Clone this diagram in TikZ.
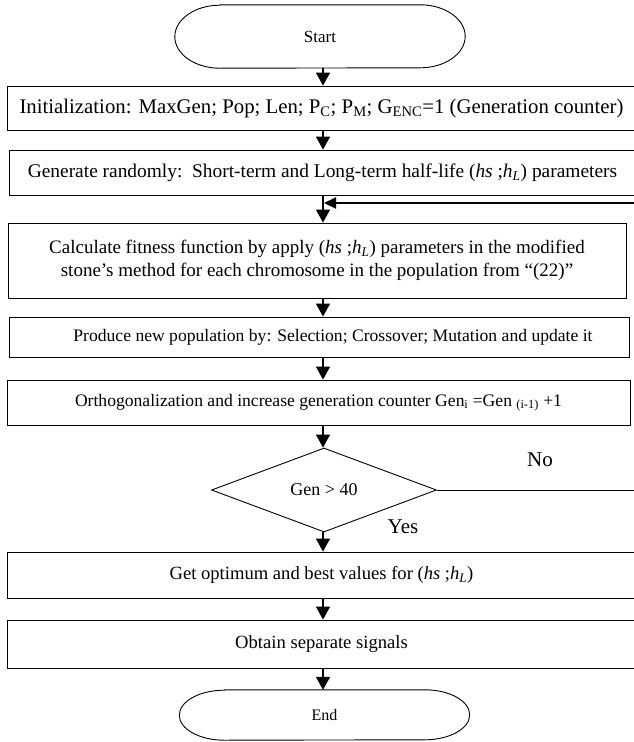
\documentclass[tikz,border=0pt]{standalone}
\usepackage{fontspec}
\setmainfont{Liberation Serif}
\usetikzlibrary{shapes.geometric,arrows.meta}
\tikzset{
  box/.style={draw, line width=0.9pt, rectangle, inner sep=0pt, align=center,
    font=\fontsize{17.6}{21.5}\selectfont},
  term/.style={rectangle, inner sep=0pt, minimum width=200pt,
    font=\fontsize{16}{19}\selectfont},
  termline/.style={line width=0.9pt},
  dec/.style={draw, diamond, line width=0.9pt, inner sep=0pt, aspect=2.68,
    minimum width=225pt, minimum height=84pt, font=\fontsize{18}{21}\selectfont},
  flow/.style={line width=1.6pt, -{Triangle[width=14pt,length=13pt]}},
  ret/.style={line width=2.2pt, -{Triangle[width=11pt,length=12pt]}},
  plain/.style={line width=0.9pt},
  lbl/.style={font=\fontsize{21}{25}\selectfont, inner sep=0pt}
}
\newcommand{\hsL}{(\textit{hs} ;\textit{h}\textsubscript{\textit{L}})}
\begin{document}
\begin{tikzpicture}[x=1pt,y=-1pt]
\useasboundingbox (0,0) rectangle (634,742);
\clip (0,0) rectangle (634,742);
\fill[white] (0,0) rectangle (634,742);
\coordinate (axis) at (323,0);

% terminals
\node[term, minimum height=63pt, font=\fontsize{17}{20}\selectfont] (start) at (320,36.5) {Start};
\draw[termline] (start.north west) -- (start.north east)
  arc[start angle=-90, end angle=90, x radius=45, y radius=31.5]
  -- (start.south west)
  arc[start angle=90, end angle=270, x radius=45, y radius=31.5] -- cycle;

\node[box, font=\fontsize{20.8}{24}\selectfont, minimum width=629pt, minimum height=44pt] (init) at (321.5,108)
  {Initialization: MaxGen; Pop; Len; P\textsubscript{C}; P\textsubscript{M}; G\textsubscript{ENC}=1 (Generation counter)};
\node[box, font=\fontsize{19.4}{22}\selectfont, minimum width=627pt, minimum height=45pt] (gen) at (322.5,172.5)
  {Generate randomly:\ \ Short-term and Long-term half-life \hsL{} parameters};
\node[box, font=\fontsize{19}{22.5}\selectfont, minimum width=618pt, minimum height=75pt] (calc) at (317,260.5)
  {Calculate fitness function by apply \hsL{} parameters in the modified\\
   stone’s method for each chromosome in the population from “(22)”};
\node[box, minimum width=620pt, minimum height=40pt] (prod) at (319,337)
  {\hspace*{28pt}Produce new population by: Selection; Crossover; Mutation and update it};
\node[box, minimum width=623pt, minimum height=45pt] (orth) at (318.5,402.5)
  {Orthogonalization and increase generation counter Gen\textsubscript{i} =Gen \textsubscript{(i-1)} +1};
\node[dec] (test) at (324,490) {Gen > 40};
\node[box, font=\fontsize{18.6}{22}\selectfont, minimum width=629pt, minimum height=46pt] (best) at (321.5,575)
  {Get optimum and best values for \hsL};
\node[box, font=\fontsize{18.6}{22}\selectfont, minimum width=629pt, minimum height=48pt] (sig) at (321.5,644)
  {Obtain separate signals};

\node[term, minimum height=50pt] (stop) at (324.5,715) {End};
\draw[termline] (stop.north west) -- (stop.north east)
  arc[start angle=-90, end angle=90, x radius=45, y radius=25]
  -- (stop.south west)
  arc[start angle=90, end angle=270, x radius=45, y radius=25] -- cycle;

\node[lbl] (no) at (540,460) {No};
\node[lbl] (yes) at (403,527) {Yes};

% connectors
\draw[flow] (start.south -| axis) -- (init.north -| axis);
\draw[flow] (init.south -| axis) -- (gen.north -| axis);
\draw[flow] (gen.south -| axis) -- (calc.north -| axis);
\draw[flow] (calc.south -| axis) -- (prod.north -| axis);
\draw[flow] (prod.south -| axis) -- (orth.north -| axis);
\draw[flow] (orth.south -| axis) -- (test.north -| axis);
\draw[flow] (test.south -| axis) -- (best.north -| axis);
\draw[flow] (best.south -| axis) -- (sig.north -| axis);
\draw[flow] (sig.south -| axis) -- (stop.north -| axis);

\coordinate (retin) at (640,203);
\coordinate (join) at (324,203);
\draw[ret] (retin) -- (join);

\coordinate (noend) at (640,490);
\draw[plain] (test.east) -- (noend);
\end{tikzpicture}
\end{document}
